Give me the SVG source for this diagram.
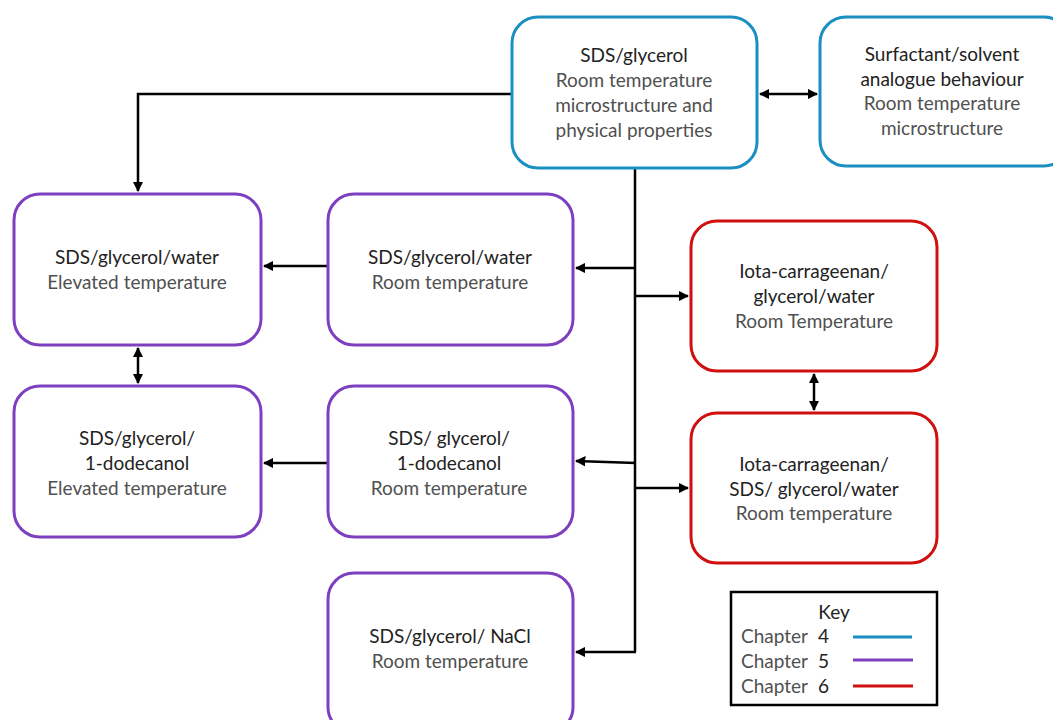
<svg xmlns="http://www.w3.org/2000/svg" width="1053" height="720" viewBox="0 0 1053 720">
<defs>
<marker id="ah" viewBox="0 0 10 10" refX="9" refY="5" markerWidth="4.2" markerHeight="4.2" orient="auto-start-reverse" markerUnits="strokeWidth">
<path d="M0,0 L10,5 L0,10 z" fill="#000"/>
</marker>
<style>
.n{fill:#fff;stroke-width:3}
.c4{stroke:#1b8fc1}
.c5{stroke:#7d3fbf}
.c6{stroke:#d01010}
text{font-family:Lato,"Open Sans","Liberation Sans",sans-serif;font-size:19px;text-anchor:middle}
.t1{fill:#222}
.t2{fill:#505050}
.cn{stroke:#000;stroke-width:2.5;fill:none}
.ar{marker-end:url(#ah)}
.da{marker-start:url(#ah);marker-end:url(#ah)}
</style>
</defs>
<rect width="1053" height="720" fill="#fff"/>
<g id="connectors">
<polyline class="cn ar" points="512,94 138,94 138,191"/>
<line class="cn da" x1="760" y1="94" x2="817" y2="94"/>
<line class="cn" x1="635" y1="168" x2="635" y2="652"/>
<line class="cn ar" x1="636" y1="268" x2="576" y2="268"/>
<line class="cn ar" x1="635" y1="296" x2="688" y2="296"/>
<line class="cn ar" x1="636" y1="463" x2="576" y2="461"/>
<line class="cn ar" x1="635" y1="488" x2="688" y2="488"/>
<line class="cn ar" x1="636" y1="652" x2="576" y2="652"/>
<line class="cn ar" x1="328" y1="266" x2="264" y2="266"/>
<line class="cn ar" x1="328" y1="463" x2="264" y2="463"/>
<line class="cn da" x1="138" y1="348" x2="138" y2="383"/>
<line class="cn da" x1="814" y1="374" x2="814" y2="410"/>
</g>
<g id="n-sds-glycerol">
<rect class="n c4" x="512" y="17" width="245" height="151" rx="26"/>
<text x="634" y="62" class="t1">SDS/glycerol</text>
<text x="634" y="87" class="t2">Room temperature</text>
<text x="634" y="112" class="t2">microstructure and</text>
<text x="634" y="137" class="t2">physical properties</text>
</g>
<g id="n-analogue">
<rect class="n c4" x="820" y="17" width="250" height="149" rx="26"/>
<text x="942" y="61" class="t1">Surfactant/solvent</text>
<text x="942" y="86" class="t1">analogue behaviour</text>
<text x="942" y="110" class="t2">Room temperature</text>
<text x="942" y="135" class="t2">microstructure</text>
</g>
<g id="n-water-elev">
<rect class="n c5" x="14" y="194" width="247" height="151" rx="26"/>
<text x="137" y="264" class="t1">SDS/glycerol/water</text>
<text x="137" y="289" class="t2">Elevated temperature</text>
</g>
<g id="n-water-room">
<rect class="n c5" x="328" y="194" width="245" height="151" rx="26"/>
<text x="450" y="264" class="t1">SDS/glycerol/water</text>
<text x="450" y="289" class="t2">Room temperature</text>
</g>
<g id="n-dodec-elev">
<rect class="n c5" x="14" y="386" width="247" height="151" rx="26"/>
<text x="137" y="445" class="t1">SDS/glycerol/</text>
<text x="137" y="470" class="t1">1-dodecanol</text>
<text x="137" y="495" class="t2">Elevated temperature</text>
</g>
<g id="n-dodec-room">
<rect class="n c5" x="328" y="386" width="245" height="151" rx="26"/>
<text x="449" y="445" class="t1">SDS/ glycerol/</text>
<text x="449" y="470" class="t1">1-dodecanol</text>
<text x="449" y="495" class="t2">Room temperature</text>
</g>
<g id="n-nacl">
<rect class="n c5" x="328" y="573" width="245" height="160" rx="26"/>
<text x="450" y="643" class="t1">SDS/glycerol/ NaCl</text>
<text x="450" y="668" class="t2">Room temperature</text>
</g>
<g id="n-iota">
<rect class="n c6" x="691" y="221" width="246" height="150" rx="26"/>
<text x="814" y="278" class="t1">Iota-carrageenan/</text>
<text x="814" y="303" class="t1">glycerol/water</text>
<text x="814" y="328" class="t2">Room Temperature</text>
</g>
<g id="n-iota-sds">
<rect class="n c6" x="691" y="413" width="246" height="150" rx="26"/>
<text x="814" y="471" class="t1">Iota-carrageenan/</text>
<text x="814" y="496" class="t1">SDS/ glycerol/water</text>
<text x="814" y="520" class="t2">Room temperature</text>
</g>
<g id="key">
<rect x="731" y="592" width="206" height="113" fill="#fff" stroke="#000" stroke-width="2.5"/>
<text x="834" y="619" class="t1">Key</text>
<text x="741" y="643" class="t2" style="text-anchor:start">Chapter <tspan x="818" class="t1">4</tspan></text>
<text x="741" y="668" class="t2" style="text-anchor:start">Chapter <tspan x="818" class="t1">5</tspan></text>
<text x="741" y="693" class="t2" style="text-anchor:start">Chapter <tspan x="818" class="t1">6</tspan></text>
<line x1="853" y1="637" x2="912" y2="637" class="c4" stroke-width="3"/>
<line x1="853" y1="660" x2="913" y2="660" class="c5" stroke-width="3"/>
<line x1="853" y1="686" x2="913" y2="686" class="c6" stroke-width="3"/>
</g>
</svg>
